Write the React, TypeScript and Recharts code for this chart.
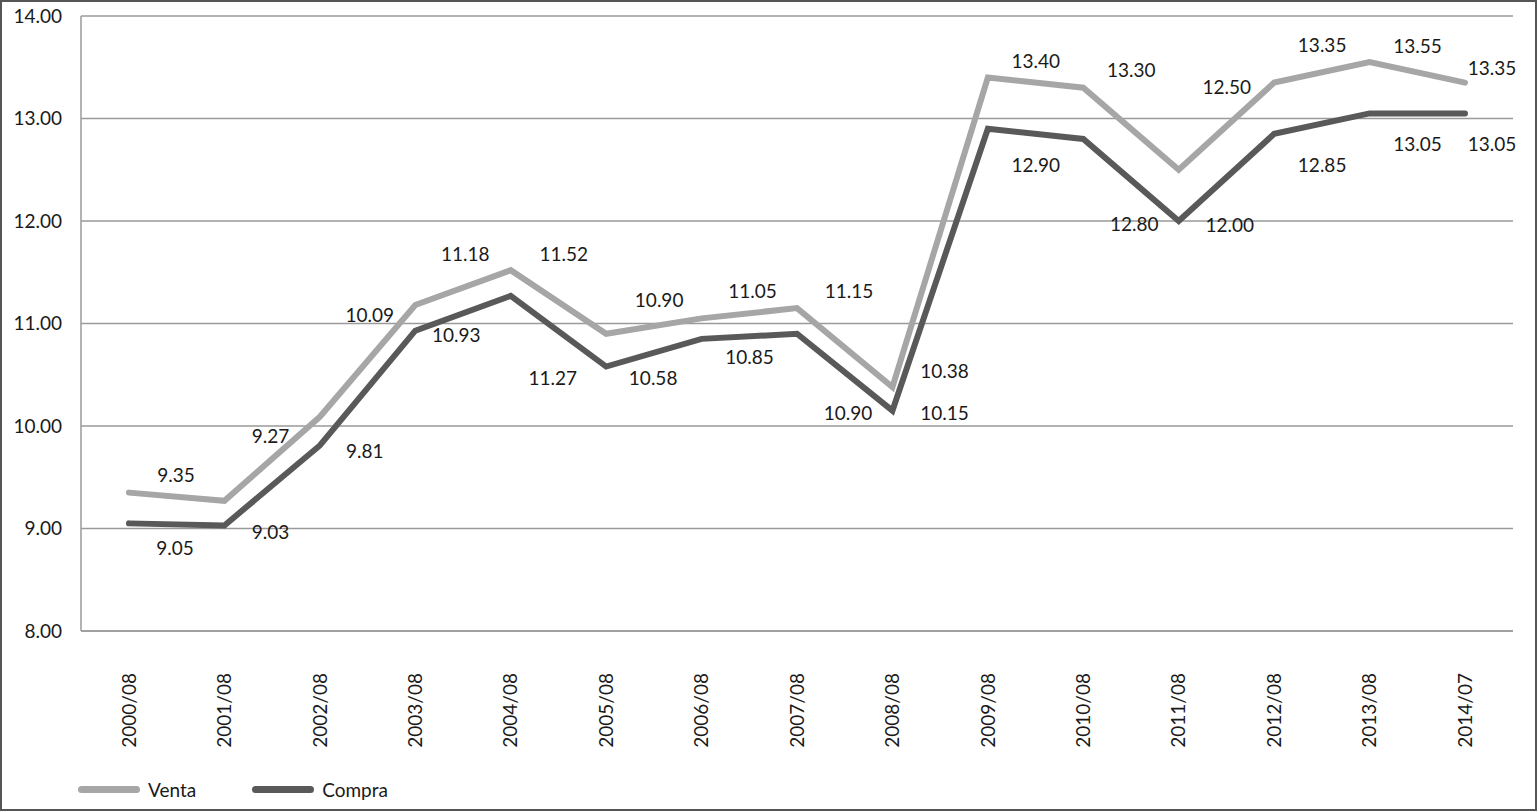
import React from "react";
import {
  LineChart,
  Line,
  XAxis,
  YAxis,
  CartesianGrid,
  LabelList,
} from "recharts";

const categories = [
  "2000/08", "2001/08", "2002/08", "2003/08", "2004/08",
  "2005/08", "2006/08", "2007/08", "2008/08", "2009/08",
  "2010/08", "2011/08", "2012/08", "2013/08", "2014/07",
];
const venta = [9.35, 9.27, 10.09, 11.18, 11.52, 10.9, 11.05, 11.15, 10.38, 13.4, 13.3, 12.5, 13.35, 13.55, 13.35];
const compra = [9.05, 9.03, 9.81, 10.93, 11.27, 10.58, 10.85, 10.9, 10.15, 12.9, 12.8, 12.0, 12.85, 13.05, 13.05];
const yTicks = [8, 9, 10, 11, 12, 13, 14];

// label nudges (hand-placed in the original)
const ventaDx = [47, 46, 50, 50, 53, 53, 51, 52, 52, 48, 48, 48, 48, 48, 27];
const ventaDy = [-18, -65, -102, -52, -17, -34, -28, -18, -17, -17, -18, -83, -38, -17, -15];
const compraDx = [46, 46, 45, 41, 42, 47, 48, 51, 52, 48, 51, 51, 48, 48, 27];
const compraDy = [24, 6, 5, 4, 82, 11, 18, 79, 2, 36, 84, 3, 31, 30, 30];

const FONT = "Lato, 'Open Sans', sans-serif";
const LIGHT = "#a6a6a6";
const DARK = "#595959";

const rows = categories.map((c, i) => ({ cat: c, venta: venta[i], compra: compra[i] }));

const makeLabel = (dxs: number[], dys: number[]) => (props: any) => {
  const { x, y, value, index } = props;
  return (
    <text
      x={x + dxs[index]}
      y={y + dys[index]}
      textAnchor="middle"
      dominantBaseline="central"
      fontSize={19}
      fontFamily={FONT}
      fill="#1a1a1a"
    >
      {Number(value).toFixed(2)}
    </text>
  );
};

const XTick = (props: any) => {
  const { x, y, payload } = props;
  return (
    <text
      transform={`translate(${x},${y + 34}) rotate(-90)`}
      textAnchor="end"
      dy="0.35em"
      fontSize={19}
      fontFamily={FONT}
      fill="#1a1a1a"
    >
      {payload.value}
    </text>
  );
};

function LegendItem({ color, label }: { color: string; label: string }) {
  return (
    <div style={{ display: "flex", alignItems: "center", marginRight: 56 }}>
      <div style={{ width: 62, height: 7, borderRadius: 4, background: color, marginRight: 8 }} />
      <span style={{ fontSize: 19, fontFamily: FONT, color: "#1a1a1a" }}>{label}</span>
    </div>
  );
}

export default function App() {
  return (
    <div
      style={{
        position: "absolute",
        left: 0,
        top: 0,
        width: 1537,
        height: 811,
        boxSizing: "border-box",
        border: "2px solid #555",
        background: "#fff",
      }}
    >
      <div style={{ position: "absolute", left: -2, top: -2 }}>
        <LineChart
          width={1537}
          height={811}
          data={rows}
          margin={{ top: 16, right: 24, bottom: 0, left: 0 }}
        >
          <CartesianGrid vertical={false} stroke="#9a9a9a" strokeWidth={1.5} />
          <XAxis
            dataKey="cat"
            height={180}
            padding={{ left: 48, right: 48 }}
            axisLine={{ stroke: "#9a9a9a", strokeWidth: 1.5 }}
            tickLine={false}
            interval={0}
            tick={<XTick />}
          />
          <YAxis
            width={81}
            domain={[8, 14]}
            ticks={yTicks}
            allowDataOverflow
            tickFormatter={(v: number) => v.toFixed(2)}
            axisLine={{ stroke: "#9a9a9a", strokeWidth: 1.5 }}
            tickLine={false}
            tickSize={6}
            tickMargin={13}
            tick={{ fontSize: 19, fontFamily: FONT, fill: "#1a1a1a" }}
          />
          <Line
            dataKey="venta"
            stroke={LIGHT}
            strokeWidth={6}
            strokeLinecap="round"
            dot={false}
            isAnimationActive={false}
          >
            <LabelList dataKey="venta" content={makeLabel(ventaDx, ventaDy)} />
          </Line>
          <Line
            dataKey="compra"
            stroke={DARK}
            strokeWidth={6}
            strokeLinecap="round"
            dot={false}
            isAnimationActive={false}
          >
            <LabelList dataKey="compra" content={makeLabel(compraDx, compraDy)} />
          </Line>
        </LineChart>
        <div style={{ position: "absolute", left: 78, top: 778, display: "flex" }}>
          <LegendItem color={LIGHT} label="Venta" />
          <LegendItem color={DARK} label="Compra" />
        </div>
      </div>
    </div>
  );
}
